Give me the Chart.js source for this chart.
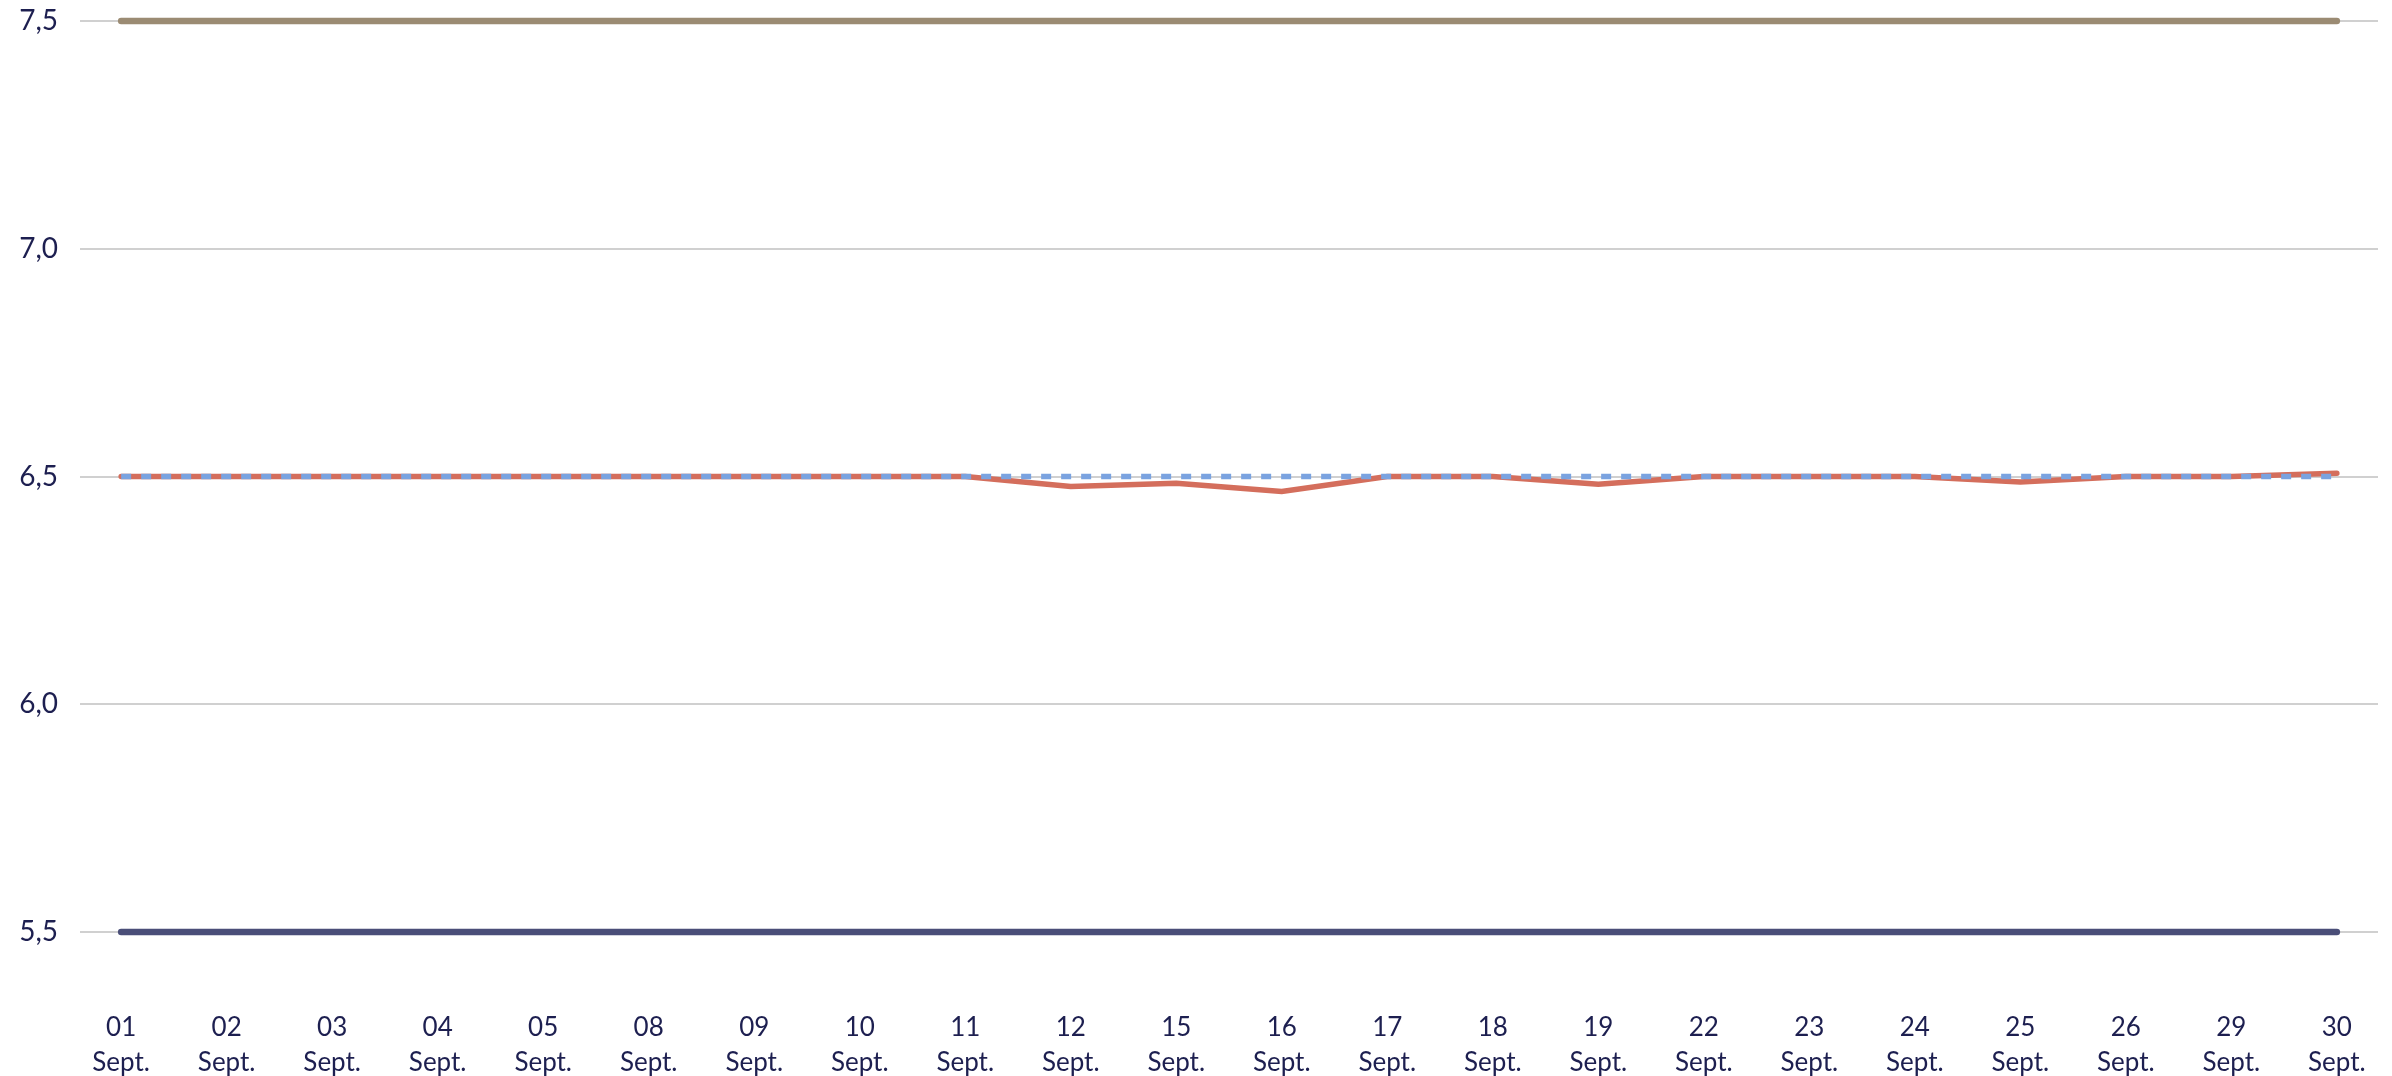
<!DOCTYPE html>
<html lang="fr">
<head>
  <meta charset="UTF-8" />
  <title>Taux - Septembre</title>
  <script src="https://cdn.jsdelivr.net/npm/chart.js"></script>
  <style>
    html, body { margin: 0; padding: 0; background: #fff; overflow: hidden; }
    #wrap { width: 2392px; height: 1076px; position: relative; }
    canvas { display: block; }
  </style>
</head>
<body>
  <div id="wrap"><canvas id="graphique"></canvas></div>

  <script>
    // jours de bourse de septembre
    const jours = ['01', '02', '03', '04', '05', '08', '09', '10', '11', '12', '15',
                   '16', '17', '18', '19', '22', '23', '24', '25', '26', '29', '30'];
    const mois = 'Sept.';

    const borneHaute = [7.5, 7.5, 7.5, 7.5, 7.5, 7.5, 7.5, 7.5, 7.5, 7.5, 7.5,
                        7.5, 7.5, 7.5, 7.5, 7.5, 7.5, 7.5, 7.5, 7.5, 7.5, 7.5];
    const borneBasse = [5.5, 5.5, 5.5, 5.5, 5.5, 5.5, 5.5, 5.5, 5.5, 5.5, 5.5,
                        5.5, 5.5, 5.5, 5.5, 5.5, 5.5, 5.5, 5.5, 5.5, 5.5, 5.5];
    const observe = [6.5, 6.5, 6.5, 6.5, 6.5, 6.5, 6.5, 6.5, 6.5, 6.478, 6.485,
                     6.467, 6.5, 6.5, 6.483, 6.5, 6.5, 6.5, 6.488, 6.5, 6.5, 6.507];
    const cible = [6.5, 6.5, 6.5, 6.5, 6.5, 6.5, 6.5, 6.5, 6.5, 6.5, 6.5,
                   6.5, 6.5, 6.5, 6.5, 6.5, 6.5, 6.5, 6.5, 6.5, 6.5, 6.5];

    const yTicks = [5.5, 6.0, 6.5, 7.0, 7.5];

    const texte = '#1d1f50';
    const pts = arr => arr.map((v, i) => ({ x: i, y: v }));

    new Chart(document.getElementById('graphique'), {
      type: 'line',
      data: {
        datasets: [
          { data: pts(cible), borderColor: '#7aa3e0', borderWidth: 5.5, borderDash: [10, 10], order: 1 },
          { data: pts(observe), borderColor: '#d46e5c', borderWidth: 5.5, borderCapStyle: 'round', order: 2 },
          { data: pts(borneHaute), borderColor: '#9b8b73', borderWidth: 6.5, borderCapStyle: 'round', order: 3 },
          { data: pts(borneBasse), borderColor: '#4a4e78', borderWidth: 6.5, borderCapStyle: 'round', order: 4 }
        ]
      },
      options: {
        responsive: true,
        maintainAspectRatio: false,
        animation: false,
        devicePixelRatio: 1,
        layout: { padding: { top: 21, right: 14, bottom: 0, left: 0 } },
        elements: { point: { radius: 0 }, line: { tension: 0 } },
        datasets: { line: { clip: false } },
        plugins: { legend: { display: false }, tooltip: { enabled: false } },
        scales: {
          x: {
            type: 'linear',
            min: -0.39,
            max: jours.length - 1 + 0.39,
            afterBuildTicks: axis => { axis.ticks = jours.map((_, i) => ({ value: i })); },
            afterFit: axis => { axis.height = 144; axis.paddingLeft = 0; axis.paddingRight = 0; },
            grid: { display: false },
            border: { display: false },
            ticks: {
              autoSkip: false,
              maxRotation: 0,
              padding: 70,
              color: texte,
              font: { family: 'Lato', size: 26, lineHeight: 1.35 },
              callback: v => [jours[v], mois]
            }
          },
          y: {
            min: 5.5,
            max: 7.5,
            afterBuildTicks: axis => { axis.ticks = yTicks.map(v => ({ value: v })); },
            afterFit: axis => { axis.width = 80; axis.paddingTop = 0; axis.paddingBottom = 0; },
            grid: { color: '#d0d0d0', lineWidth: 2, drawTicks: false },
            border: { display: false },
            ticks: {
              padding: 22,
              color: texte,
              font: { family: 'Lato', size: 28 },
              callback: v => v.toFixed(1).replace('.', ',')
            }
          }
        }
      }
    });
  </script>
</body>
</html>
